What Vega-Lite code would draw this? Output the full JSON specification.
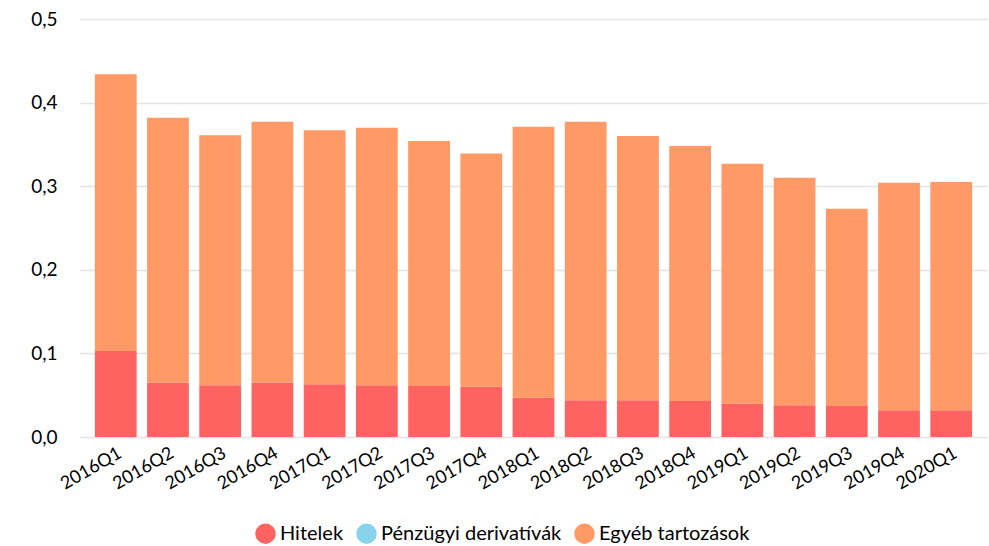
{
  "$schema": "https://vega.github.io/schema/vega-lite/v6.json",
  "width": 907,
  "height": 418,
  "autosize": {"type": "none"},
  "padding": {"left": 80, "top": 19, "right": 2, "bottom": 109},
  "background": "white",
  "config": {
    "font": "Lato",
    "view": {"stroke": null},
    "axis": {"labelFont": "Lato", "labelColor": "#000000", "domain": false, "ticks": false, "title": null},
    "legend": {"labelFont": "Lato"}
  },
  "data": {
    "values": [
      {"q": "2016Q1", "s": "Hitelek", "v": 0.103}, {"q": "2016Q1", "s": "Pénzügyi derivatívák", "v": 0}, {"q": "2016Q1", "s": "Egyéb tartozások", "v": 0.331},
      {"q": "2016Q2", "s": "Hitelek", "v": 0.065}, {"q": "2016Q2", "s": "Pénzügyi derivatívák", "v": 0}, {"q": "2016Q2", "s": "Egyéb tartozások", "v": 0.317},
      {"q": "2016Q3", "s": "Hitelek", "v": 0.062}, {"q": "2016Q3", "s": "Pénzügyi derivatívák", "v": 0}, {"q": "2016Q3", "s": "Egyéb tartozások", "v": 0.299},
      {"q": "2016Q4", "s": "Hitelek", "v": 0.065}, {"q": "2016Q4", "s": "Pénzügyi derivatívák", "v": 0}, {"q": "2016Q4", "s": "Egyéb tartozások", "v": 0.312},
      {"q": "2017Q1", "s": "Hitelek", "v": 0.063}, {"q": "2017Q1", "s": "Pénzügyi derivatívák", "v": 0}, {"q": "2017Q1", "s": "Egyéb tartozások", "v": 0.304},
      {"q": "2017Q2", "s": "Hitelek", "v": 0.062}, {"q": "2017Q2", "s": "Pénzügyi derivatívák", "v": 0}, {"q": "2017Q2", "s": "Egyéb tartozások", "v": 0.308},
      {"q": "2017Q3", "s": "Hitelek", "v": 0.061}, {"q": "2017Q3", "s": "Pénzügyi derivatívák", "v": 0}, {"q": "2017Q3", "s": "Egyéb tartozások", "v": 0.293},
      {"q": "2017Q4", "s": "Hitelek", "v": 0.060}, {"q": "2017Q4", "s": "Pénzügyi derivatívák", "v": 0}, {"q": "2017Q4", "s": "Egyéb tartozások", "v": 0.279},
      {"q": "2018Q1", "s": "Hitelek", "v": 0.047}, {"q": "2018Q1", "s": "Pénzügyi derivatívák", "v": 0}, {"q": "2018Q1", "s": "Egyéb tartozások", "v": 0.324},
      {"q": "2018Q2", "s": "Hitelek", "v": 0.044}, {"q": "2018Q2", "s": "Pénzügyi derivatívák", "v": 0}, {"q": "2018Q2", "s": "Egyéb tartozások", "v": 0.333},
      {"q": "2018Q3", "s": "Hitelek", "v": 0.044}, {"q": "2018Q3", "s": "Pénzügyi derivatívák", "v": 0}, {"q": "2018Q3", "s": "Egyéb tartozások", "v": 0.316},
      {"q": "2018Q4", "s": "Hitelek", "v": 0.043}, {"q": "2018Q4", "s": "Pénzügyi derivatívák", "v": 0}, {"q": "2018Q4", "s": "Egyéb tartozások", "v": 0.305},
      {"q": "2019Q1", "s": "Hitelek", "v": 0.040}, {"q": "2019Q1", "s": "Pénzügyi derivatívák", "v": 0}, {"q": "2019Q1", "s": "Egyéb tartozások", "v": 0.287},
      {"q": "2019Q2", "s": "Hitelek", "v": 0.038}, {"q": "2019Q2", "s": "Pénzügyi derivatívák", "v": 0}, {"q": "2019Q2", "s": "Egyéb tartozások", "v": 0.272},
      {"q": "2019Q3", "s": "Hitelek", "v": 0.037}, {"q": "2019Q3", "s": "Pénzügyi derivatívák", "v": 0}, {"q": "2019Q3", "s": "Egyéb tartozások", "v": 0.236},
      {"q": "2019Q4", "s": "Hitelek", "v": 0.032}, {"q": "2019Q4", "s": "Pénzügyi derivatívák", "v": 0}, {"q": "2019Q4", "s": "Egyéb tartozások", "v": 0.272},
      {"q": "2020Q1", "s": "Hitelek", "v": 0.032}, {"q": "2020Q1", "s": "Pénzügyi derivatívák", "v": 0}, {"q": "2020Q1", "s": "Egyéb tartozások", "v": 0.273}
    ]
  },
  "transform": [
    {"calculate": "indexof(['Hitelek','Pénzügyi derivatívák','Egyéb tartozások'], datum.s)", "as": "ord"}
  ],
  "mark": {"type": "bar"},
  "encoding": {
    "x": {
      "field": "q", "type": "ordinal",
      "scale": {"paddingInner": 0.2, "paddingOuter": 0.285},
      "axis": {"labelAngle": -30, "labelFontSize": 18, "labelPadding": 7, "grid": false}
    },
    "y": {
      "field": "v", "type": "quantitative", "aggregate": "sum", "stack": "zero",
      "scale": {"domain": [0, 0.5], "nice": false},
      "axis": {
        "values": [0, 0.1, 0.2, 0.3, 0.4, 0.5],
        "labelExpr": "replace(format(datum.value, '.1f'), '.', ',')",
        "labelFontSize": 19, "labelPadding": 23,
        "grid": true, "gridColor": "#e3e3e3", "gridWidth": 1.5
      }
    },
    "color": {
      "field": "s", "type": "nominal",
      "scale": {
        "domain": ["Hitelek", "Pénzügyi derivatívák", "Egyéb tartozások"],
        "range": ["#ff6361", "#87d3ec", "#ff9966"]
      },
      "legend": {
        "title": null, "orient": "none", "direction": "horizontal",
        "legendX": 175, "legendY": 504,
        "symbolType": "circle", "symbolSize": 420, "symbolStrokeWidth": 0,
        "labelFontSize": 20, "labelColor": "#000000", "columnPadding": 12,
        "labelOffset": 4, "labelLimit": 400
      }
    },
    "order": {"field": "ord", "type": "quantitative"}
  }
}
